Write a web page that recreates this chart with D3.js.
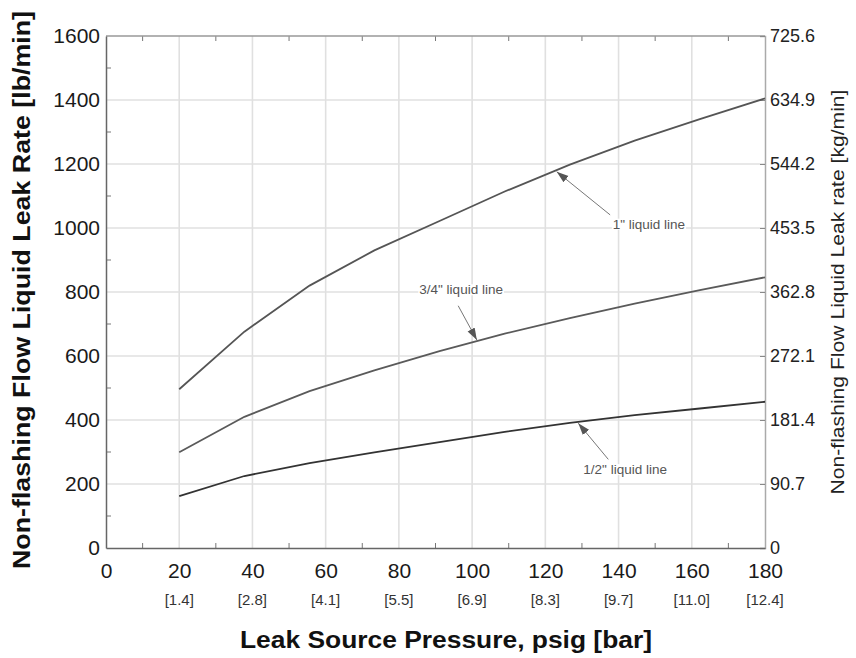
<!DOCTYPE html>
<html>
<head>
<meta charset="utf-8">
<script src="https://cdn.jsdelivr.net/npm/d3@7"></script>
<style>
  body { margin: 0; background: #fff; }
  svg { font-family: "Liberation Sans", Arial, sans-serif; }
</style>
</head>
<body>
<svg width="856" height="658"></svg>
<script>
// data
const pressure = [20, 37.8, 55.6, 73.3, 91.1, 108.9, 126.7, 144.4, 162.2, 180];
const oneInch = [496, 676, 820, 930, 1022, 1114, 1198, 1273, 1340, 1405];
const threeQuarter = [299, 410, 490, 555, 615, 670, 718, 764, 806, 846];
const half = [162, 225, 265, 299, 331, 363, 391, 415, 436, 457];

const xTicks = [0, 20, 40, 60, 80, 100, 120, 140, 160, 180];
const barLabels = ["", "[1.4]", "[2.8]", "[4.1]", "[5.5]", "[6.9]", "[8.3]", "[9.7]", "[11.0]", "[12.4]"];
const yTicks = [0, 200, 400, 600, 800, 1000, 1200, 1400, 1600];
const kgLabels = ["0", "90.7", "181.4", "272.1", "362.8", "453.5", "544.2", "634.9", "725.6"];

const notes = [
  { text: "1\" liquid line", tip: [123.1, 1176], tail: [137.7, 1041], at: [148.3, 1009] },
  { text: "3/4\" liquid line", tip: [101.3, 650], tail: [96.2, 757], at: [97, 804] },
  { text: "1/2\" liquid line", tip: [129, 390], tail: [137.2, 277], at: [141.8, 242] }
];

const svg = d3.select("svg");
const width = +svg.attr("width");
const height = +svg.attr("height");
const margin = { top: 36, right: 91, bottom: 110, left: 106 };
const innerWidth = width - margin.left - margin.right;
const innerHeight = height - margin.top - margin.bottom;

const x = d3.scaleLinear().domain([0, 180]).range([0, innerWidth]);
const y = d3.scaleLinear().domain([0, 1600]).range([innerHeight, 0]);

const g = svg.append("g").attr("transform", `translate(${margin.left},${margin.top})`);

// grid
g.append("g").selectAll("line").data(xTicks.filter(d => d > 0 && d < 180)).join("line")
  .attr("x1", d => x(d)).attr("x2", d => x(d))
  .attr("y1", 0).attr("y2", innerHeight)
  .attr("stroke", "#e0e0e0").attr("stroke-width", 1.6);
g.append("g").selectAll("line").data(yTicks.filter(d => d > 0 && d < 1600)).join("line")
  .attr("x1", 0).attr("x2", innerWidth)
  .attr("y1", d => y(d)).attr("y2", d => y(d))
  .attr("stroke", "#e0e0e0").attr("stroke-width", 1.6);

// minor ticks
const minorX = d3.range(10, 180, 20);
const minorY = d3.range(100, 1600, 200);
g.append("g").selectAll("line").data(minorX).join("line")
  .attr("x1", d => x(d)).attr("x2", d => x(d))
  .attr("y1", innerHeight).attr("y2", innerHeight - 5)
  .attr("stroke", "#777");
g.append("g").selectAll("line").data(minorX).join("line")
  .attr("x1", d => x(d)).attr("x2", d => x(d))
  .attr("y1", 0).attr("y2", 5)
  .attr("stroke", "#777");
g.append("g").selectAll("line").data(minorY).join("line")
  .attr("x1", 0).attr("x2", 5)
  .attr("y1", d => y(d)).attr("y2", d => y(d))
  .attr("stroke", "#777");

// frame
g.append("line").attr("x1", 0).attr("x2", innerWidth).attr("y1", 0).attr("y2", 0)
  .attr("stroke", "#999").attr("stroke-width", 1.5);

// left axis
const yAxis = d3.axisLeft(y).tickValues(yTicks).tickSize(0).tickPadding(6).tickFormat(d3.format("d"));
const yAxisG = g.append("g").call(yAxis);
yAxisG.select(".domain").attr("stroke", "#666").attr("stroke-width", 1.5);
yAxisG.selectAll("text").attr("font-size", 21).attr("fill", "#1a1a1a");

// right axis
const yRight = d3.axisRight(y).tickValues(yTicks).tickSize(-5).tickPadding(5)
  .tickFormat((d, i) => kgLabels[i]);
const yRightG = g.append("g").attr("transform", `translate(${innerWidth},0)`).call(yRight);
yRightG.select(".domain").attr("stroke", "#aaa").attr("stroke-width", 1.5);
yRightG.selectAll(".tick line").attr("stroke", "#888");
yRightG.selectAll("text").attr("font-size", 18).attr("fill", "#222");

// bottom axis
const xAxis = d3.axisBottom(x).tickValues(xTicks).tickSize(0).tickPadding(15);
const xAxisG = g.append("g").attr("transform", `translate(0,${innerHeight})`).call(xAxis);
xAxisG.select(".domain").attr("stroke", "#666").attr("stroke-width", 1.5);
xAxisG.selectAll("text").attr("font-size", 21).attr("fill", "#1a1a1a");

// bar sub-labels
g.append("g").selectAll("text").data(xTicks).join("text")
  .attr("x", d => x(d)).attr("y", innerHeight + 57)
  .attr("text-anchor", "middle")
  .attr("font-size", 15).attr("fill", "#333")
  .text((d, i) => barLabels[i]);

// axis titles
svg.append("text")
  .attr("transform", `translate(24,290) rotate(-90)`)
  .attr("text-anchor", "middle").attr("dominant-baseline", "middle")
  .attr("font-size", 23).attr("font-weight", "bold").attr("fill", "#111")
  .attr("textLength", 558).attr("lengthAdjust", "spacingAndGlyphs")
  .text("Non-flashing Flow Liquid Leak Rate [lb/min]");
svg.append("text")
  .attr("transform", `translate(839,292) rotate(-90)`)
  .attr("text-anchor", "middle").attr("dominant-baseline", "middle")
  .attr("font-size", 18).attr("fill", "#222")
  .attr("textLength", 405).attr("lengthAdjust", "spacingAndGlyphs")
  .text("Non-flashing Flow Liquid Leak rate [kg/min]");
svg.append("text")
  .attr("x", 446).attr("y", 648)
  .attr("text-anchor", "middle")
  .attr("font-size", 23).attr("font-weight", "bold").attr("fill", "#111")
  .attr("textLength", 412).attr("lengthAdjust", "spacingAndGlyphs")
  .text("Leak Source Pressure, psig [bar]");

// curves
const line = d3.line().x((d, i) => x(pressure[i])).y(d => y(d));
const series = [
  { values: oneInch, color: "#555" },
  { values: threeQuarter, color: "#5a5a5a" },
  { values: half, color: "#333" }
];
g.append("g").selectAll("path").data(series).join("path")
  .attr("d", d => line(d.values))
  .attr("fill", "none").attr("stroke", d => d.color).attr("stroke-width", 1.8);

// annotations
svg.append("defs").append("marker")
  .attr("id", "arrow").attr("viewBox", "0 0 12 10")
  .attr("refX", 12).attr("refY", 5)
  .attr("markerWidth", 12).attr("markerHeight", 10)
  .attr("markerUnits", "userSpaceOnUse")
  .attr("orient", "auto")
  .append("path").attr("d", "M0,1 L12,5 L0,9 Z").attr("fill", "#555");

const noteG = g.append("g");
notes.forEach(n => {
  noteG.append("line")
    .attr("x1", x(n.tail[0])).attr("y1", y(n.tail[1]))
    .attr("x2", x(n.tip[0])).attr("y2", y(n.tip[1]))
    .attr("stroke", "#777").attr("stroke-width", 1)
    .attr("marker-end", "url(#arrow)");
  const t = noteG.append("text")
    .attr("x", x(n.at[0])).attr("y", y(n.at[1]))
    .attr("text-anchor", "middle").attr("dominant-baseline", "middle")
    .attr("font-size", 13.5).attr("fill", "#555")
    .text(n.text);
  const bb = t.node().getBBox();
  noteG.insert("rect", () => t.node())
    .attr("x", bb.x - 1).attr("y", bb.y + 2)
    .attr("width", bb.width + 2).attr("height", bb.height - 4)
    .attr("fill", "#fff");
});
</script>
</body>
</html>
